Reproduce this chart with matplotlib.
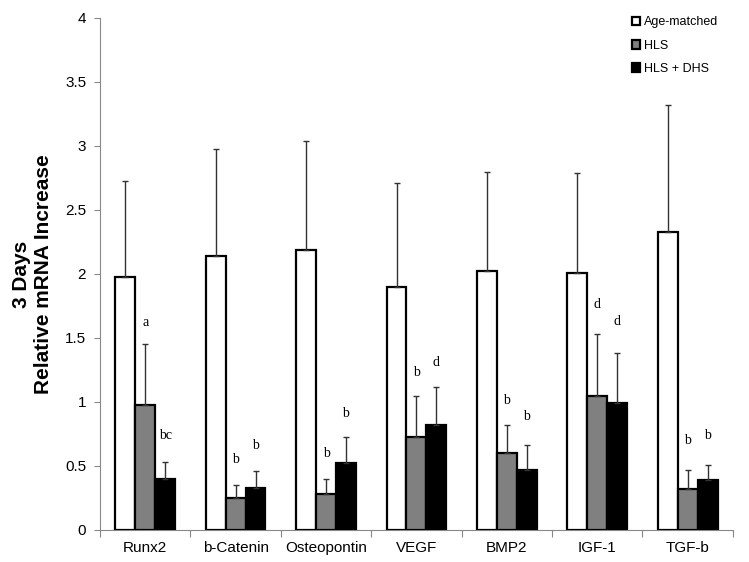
import matplotlib.pyplot as plt
import numpy as np

plt.rcParams.update({
    "font.family": ["Liberation Sans", "DejaVu Sans"],
    "font.size": 11,
})

genes = ['Runx2', 'b-Catenin', 'Osteopontin', 'VEGF', 'BMP2', 'IGF-1', 'TGF-b']
series_names = ['Age-matched', 'HLS', 'HLS + DHS']

age_matched = [1.98, 2.14, 2.19, 1.90, 2.02, 2.01, 2.33]
age_err = [0.75, 0.84, 0.85, 0.81, 0.78, 0.78, 0.99]
hls = [0.98, 0.25, 0.28, 0.73, 0.60, 1.05, 0.32]
hls_err = [0.47, 0.10, 0.12, 0.32, 0.22, 0.48, 0.15]
hls_dhs = [0.40, 0.33, 0.52, 0.82, 0.47, 0.99, 0.39]
hls_dhs_err = [0.13, 0.13, 0.21, 0.30, 0.19, 0.39, 0.12]

# significance letters and their heights (HLS, HLS + DHS)
hls_letters = ['a', 'b', 'b', 'b', 'b', 'd', 'b']
hls_letter_y = [1.62, 0.55, 0.60, 1.23, 1.01, 1.76, 0.70]
dhs_letters = ['bc', 'b', 'b', 'd', 'b', 'd', 'b']
dhs_letter_y = [0.74, 0.66, 0.91, 1.31, 0.89, 1.63, 0.74]

fig = plt.figure(figsize=(7.49, 5.62), dpi=100)
ax = fig.add_axes([0.1335, 0.057, 0.845, 0.911])

x = np.arange(len(genes))
w = 0.22
err_kw = dict(ecolor='#333333', elinewidth=1.0, capsize=2.5, capthick=1.0)

ax.bar(x - w, age_matched, w, yerr=[np.zeros(len(genes)), age_err],
       color='white', edgecolor='black', linewidth=1.6, label=series_names[0],
       error_kw=err_kw, zorder=3)
ax.bar(x, hls, w, yerr=[np.zeros(len(genes)), hls_err],
       color='#808080', edgecolor='black', linewidth=1.6, label=series_names[1],
       error_kw=err_kw, zorder=3)
ax.bar(x + w, hls_dhs, w, yerr=[np.zeros(len(genes)), hls_dhs_err],
       color='black', edgecolor='black', linewidth=1.6, label=series_names[2],
       error_kw=err_kw, zorder=3)

for i in range(len(genes)):
    ax.text(x[i], hls_letter_y[i], hls_letters[i], ha='center', va='center',
            fontsize=10, family=['Liberation Serif', 'DejaVu Serif'])
    ax.text(x[i] + w, dhs_letter_y[i], dhs_letters[i], ha='center', va='center',
            fontsize=10, family=['Liberation Serif', 'DejaVu Serif'])

ax.set_xlim(-0.5, len(genes) - 0.5)
ax.set_ylim(0, 4)
ax.set_yticks(np.arange(0, 4.01, 0.5))
ax.set_yticklabels(['0', '0.5', '1', '1.5', '2', '2.5', '3', '3.5', '4'])

ax.set_xticks(np.arange(-0.5, len(genes), 1.0))
ax.set_xticklabels([])
ax.set_xticks(x, minor=True)
ax.set_xticklabels(genes, minor=True)
ax.tick_params(axis='x', which='minor', length=0, pad=8, labelsize=11)
ax.tick_params(axis='x', which='major', length=5, color='#888888', direction='out')
ax.tick_params(axis='y', length=4, color='#888888', direction='out', labelsize=11, pad=6)

for s in ['top', 'right']:
    ax.spines[s].set_visible(False)
ax.spines['left'].set_color('#888888')
ax.spines['bottom'].set_color('#888888')

ax.set_ylabel('3 Days\nRelative mRNA Increase', fontsize=15, fontweight='bold')
ax.yaxis.set_label_coords(-0.075, 0.5)

ax.legend(loc='upper right', frameon=False, fontsize=9, handlelength=0.7,
          handleheight=0.7, handletextpad=0.3, labelspacing=0.9,
          bbox_to_anchor=(0.995, 1.025))

fig.savefig('out.png', dpi=100)
